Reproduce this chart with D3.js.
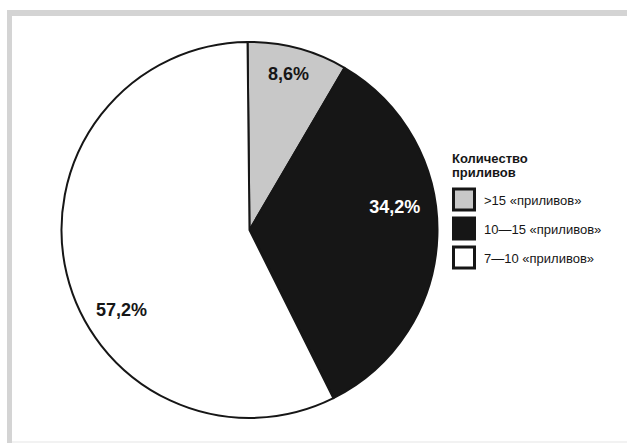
<!DOCTYPE html>
<html>
<head>
<meta charset="utf-8">
<script src="https://cdn.jsdelivr.net/npm/d3@7"></script>
<style>
  html, body { margin: 0; padding: 0; background: #ffffff; }
  svg { display: block; }
</style>
</head>
<body>
<svg id="chart" width="627" height="443"></svg>
<script>
// Shares of cases by number of hot flushes
const categories = [">15 «приливов»", "10—15 «приливов»", "7—10 «приливов»"];
const shares = [8.6, 34.2, 57.2];
const valueLabels = ["8,6%", "34,2%", "57,2%"];
const fills = ["#c8c8c8", "#161616", "#ffffff"];
const labelColors = ["#161616", "#ffffff", "#161616"];
const legendTitle = ["Количество", "приливов"];

// label placement: [angle in degrees clockwise from top, distance from centre]
const labelPlacement = [[14, 161], [81, 147], [238, 151]];

const svg = d3.select("#chart");
const W = 627, H = 443;

// frame
svg.append("rect").attr("x", 7).attr("y", 10).attr("width", W - 7).attr("height", 6).attr("fill", "#d4d4d4");
svg.append("rect").attr("x", 7).attr("y", 10).attr("width", 5).attr("height", H - 10).attr("fill", "#d4d4d4");
svg.append("rect").attr("x", 12).attr("y", 441).attr("width", W - 12).attr("height", 2).attr("fill", "#f2f2f2");

const cx = 249.5, cy = 230, R = 188;
const startRad = -0.6 * Math.PI / 180;

const pie = d3.pie().sort(null).value(d => d)
  .startAngle(startRad).endAngle(startRad + 2 * Math.PI);
const arcs = pie(shares);
const arc = d3.arc().innerRadius(0).outerRadius(R);

const g = svg.append("g").attr("transform", `translate(${cx},${cy})`);

g.selectAll("path.slice")
  .data(arcs)
  .join("path")
  .attr("class", "slice")
  .attr("d", arc)
  .attr("fill", (d, i) => fills[i])
  .attr("stroke", "#161616")
  .attr("stroke-width", 2)
  .attr("stroke-linejoin", "round");

g.selectAll("text.val")
  .data(arcs)
  .join("text")
  .attr("class", "val")
  .attr("x", (d, i) => Math.sin(labelPlacement[i][0] * Math.PI / 180) * labelPlacement[i][1])
  .attr("y", (d, i) => -Math.cos(labelPlacement[i][0] * Math.PI / 180) * labelPlacement[i][1])
  .attr("dy", "0.35em")
  .attr("text-anchor", "middle")
  .attr("font-family", "Liberation Sans, Arial, sans-serif")
  .attr("font-weight", "bold")
  .attr("font-size", 18)
  .attr("fill", (d, i) => labelColors[i])
  .text((d, i) => valueLabels[i]);

// legend
const lg = svg.append("g").attr("transform", "translate(452,0)");
lg.selectAll("text.title")
  .data(legendTitle)
  .join("text")
  .attr("class", "title")
  .attr("x", 0)
  .attr("y", (d, i) => 163 + i * 14)
  .attr("font-family", "Liberation Sans, Arial, sans-serif")
  .attr("font-weight", "bold")
  .attr("font-size", 13)
  .attr("fill", "#161616")
  .text(d => d);

const items = lg.selectAll("g.item")
  .data(categories)
  .join("g")
  .attr("class", "item")
  .attr("transform", (d, i) => `translate(0,${189 + i * 29})`);

items.append("rect")
  .attr("x", 1.5).attr("y", 0)
  .attr("width", 21).attr("height", 21)
  .attr("fill", (d, i) => fills[i])
  .attr("stroke", "#161616")
  .attr("stroke-width", 3);

items.append("text")
  .attr("x", 32)
  .attr("y", 16)
  .attr("font-family", "Liberation Sans, Arial, sans-serif")
  .attr("font-size", 13)
  .attr("fill", "#161616")
  .text(d => d);
</script>
</body>
</html>
